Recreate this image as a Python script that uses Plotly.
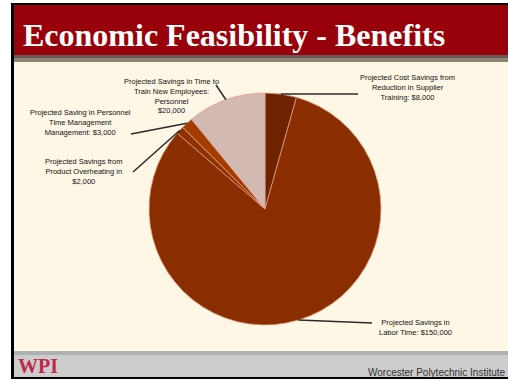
import math
import plotly.graph_objects as go

W, H = 508, 379

# ---- data ----
categories = [
    "Reduction in Supplier Training",
    "Labor Time",
    "Product Overheating",
    "Personnel Time Management",
    "Time to Train Personnel",
]
values = [8000, 150000, 2000, 3000, 20000]
label_texts = [
    "Projected Cost Savings from<br>Reduction in Supplier<br>Training: $8,000",
    "Projected Savings in<br>Labor Time: $150,000",
    "Projected Savings from<br>Product Overheating in<br>$2,000",
    "Projected Saving in Personnel<br>Time Management<br>Management: $3,000",
    "Projected Savings in Time to<br>Train New Employees:<br>Personnel<br>$20,000",
]
colors = ["#6E2200", "#8A2D00", "#8F3000", "#A43C00", "#D2BAB3"]
title_text = "Economic Feasibility - Benefits"
footer_text = "Worcester Polytechnic Institute"
logo_text = "WPI"

# ---- geometry helpers (pixel -> paper) ----
def px(x):
    return x / W

def py(y):
    return 1 - y / H

CX, CY, R = 265, 209, 116

# label placement (pixel centre of text block) and leader start point
label_pos = [
    (407, 88, 358, 94),    # text centre x, y ; leader start x, y
    (415, 327, 372, 323),
    (84, 171, 133, 172),
    (80, 122, 131, 134),
    (171, 96, 216, 85),
]

fig = go.Figure()

fig.add_trace(go.Pie(
    labels=categories,
    values=values,
    sort=False,
    direction="clockwise",
    rotation=0,
    textinfo="none",
    hoverinfo="label+value",
    marker=dict(colors=colors, line=dict(color="rgba(225,160,135,0.75)", width=1)),
    domain=dict(x=[px(CX - R), px(CX + R)], y=[py(CY + R), py(CY - R)]),
    showlegend=False,
))

shapes = []
# background panels
shapes.append(dict(type="rect", xref="paper", yref="paper", x0=px(11), x1=1, y0=py(379), y1=py(3),
                   fillcolor="#000000", line=dict(width=0), layer="below"))
shapes.append(dict(type="rect", xref="paper", yref="paper", x0=px(14), x1=1, y0=py(377), y1=py(5),
                   fillcolor="#FFF7E6", line=dict(width=0), layer="below"))
shapes.append(dict(type="rect", xref="paper", yref="paper", x0=px(14), x1=1, y0=py(55), y1=py(5),
                   fillcolor="#98000A", line=dict(width=0), layer="below"))
shapes.append(dict(type="rect", xref="paper", yref="paper", x0=px(14), x1=1, y0=py(58), y1=py(55),
                   fillcolor="#6A5B5B", line=dict(width=0), layer="below"))
shapes.append(dict(type="rect", xref="paper", yref="paper", x0=px(14), x1=1, y0=py(62), y1=py(58),
                   fillcolor="#8C8474", line=dict(width=0), layer="below"))
shapes.append(dict(type="rect", xref="paper", yref="paper", x0=px(14), x1=1, y0=py(355), y1=py(351),
                   fillcolor="#B0B0B0", line=dict(width=0), layer="below"))
shapes.append(dict(type="rect", xref="paper", yref="paper", x0=px(14), x1=1, y0=py(377), y1=py(355),
                   fillcolor="#CCCCCC", line=dict(width=0), layer="below"))

# leader lines from labels to slice mid-angles
total = sum(values)
cum = 0
annotations = []
for i, v in enumerate(values):
    mid = (cum + v / 2) / total * 2 * math.pi
    cum += v
    tx = CX + R * math.sin(mid)
    ty = CY - R * math.cos(mid)
    lx, ly, sx, sy = label_pos[i]
    shapes.append(dict(type="line", xref="paper", yref="paper",
                       x0=px(sx), y0=py(sy), x1=px(tx), y1=py(ty),
                       line=dict(color="#2A2A2A", width=1.5)))
    annotations.append(dict(text=label_texts[i], xref="paper", yref="paper",
                            x=px(lx), y=py(ly), xanchor="center", yanchor="middle",
                            showarrow=False, align="center",
                            font=dict(family="Liberation Sans, Arial", size=7.5, color="#111111")))

annotations.append(dict(text="<b>" + title_text + "</b>", xref="paper", yref="paper",
                        x=px(21), y=py(35), xanchor="left", yanchor="middle", showarrow=False,
                        font=dict(family="Liberation Serif, Times New Roman, serif", size=32, color="#FFFFFF")))
annotations.append(dict(text="<b>" + logo_text + "</b>", xref="paper", yref="paper",
                        x=px(16), y=py(366), xanchor="left", yanchor="middle", showarrow=False,
                        font=dict(family="Liberation Serif, Times New Roman, serif", size=20, color="#C0284A")))
annotations.append(dict(text=footer_text, xref="paper", yref="paper",
                        x=px(508), y=py(372), xanchor="right", yanchor="middle", showarrow=False,
                        font=dict(family="Liberation Sans, Arial", size=10, color="#333333")))

fig.update_layout(
    width=W, height=H, autosize=False,
    margin=dict(l=0, r=0, t=0, b=0),
    paper_bgcolor="#FFFFFF",
    plot_bgcolor="#FFFFFF",
    shapes=shapes,
    annotations=annotations,
)

fig.write_html("out.html")
